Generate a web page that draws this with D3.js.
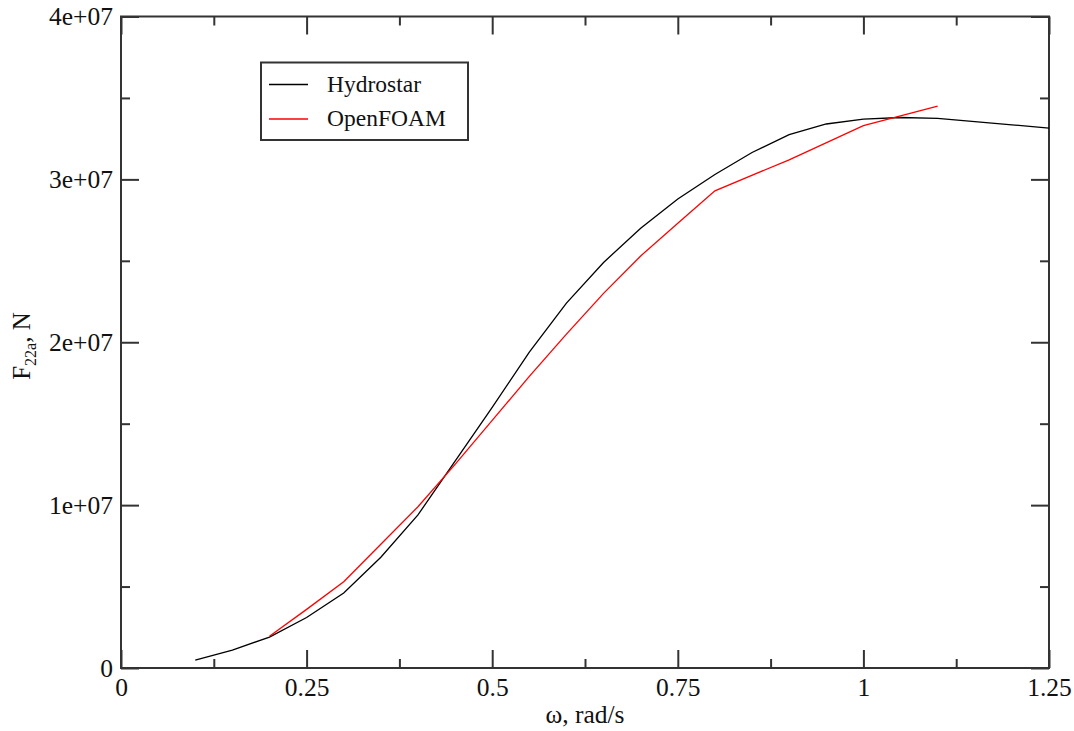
<!DOCTYPE html>
<html>
<head>
<meta charset="utf-8">
<script src="https://cdn.jsdelivr.net/npm/d3@7"></script>
<style>
  body { margin: 0; background: #fff; }
  text { font-family: "Liberation Serif", "Times New Roman", serif; }
</style>
</head>
<body>
<svg id="chart"></svg>
<script>
w = 1074;
h = 731;
// plot frame in pixels
left = 121; right = 1049; top_ = 16.5; bottom = 668;

// Hydrostar, sampled every 0.05 rad/s
var hydroOmega = [0.10, 0.15, 0.20, 0.25, 0.30, 0.35, 0.40, 0.45, 0.50, 0.55, 0.60, 0.65,
                  0.70, 0.75, 0.80, 0.85, 0.90, 0.95, 1.00, 1.05, 1.10, 1.15, 1.20, 1.25];
var hydroForce = [4.9e5, 1.1e6, 1.9e6, 3.1e6, 4.6e6, 6.8e6, 9.4e6, 1.27e7, 1.60e7, 1.94e7, 2.24e7, 2.49e7,
                  2.70e7, 2.88e7, 3.03e7, 3.165e7, 3.275e7, 3.34e7, 3.37e7, 3.38e7, 3.375e7, 3.355e7, 3.335e7, 3.315e7];

// OpenFOAM
var foamOmega = [0.20, 0.25, 0.30, 0.35, 0.40, 0.45, 0.50, 0.55, 0.60, 0.65, 0.70, 0.75,
                 0.80, 0.90, 1.00, 1.10];
var foamForce = [1.95e6, 3.6e6, 5.3e6, 7.6e6, 9.9e6, 1.25e7, 1.52e7, 1.79e7, 2.05e7, 2.30e7, 2.53e7, 2.73e7,
                 2.93e7, 3.12e7, 3.33e7, 3.45e7];

var xTicks = [0, 0.25, 0.5, 0.75, 1, 1.25];
var xTickLabels = ["0", "0.25", "0.5", "0.75", "1", "1.25"];
var xMinor = [0.125, 0.375, 0.625, 0.875, 1.125];
var yTicks = [0, 1e7, 2e7, 3e7, 4e7];
var yTickLabels = ["0", "1e+07", "2e+07", "3e+07", "4e+07"];
var yMinor = [5e6, 1.5e7, 2.5e7, 3.5e7];

var seriesNames = ["Hydrostar", "OpenFOAM"];
var seriesColors = ["#000000", "#ff0000"];

var svg = d3.select('#chart').attr('width', w).attr('height', h);

var x = d3.scaleLinear().domain([0, 1.25]).range([left, right]);
var y = d3.scaleLinear().domain([0, 4e7]).range([bottom, top_]);

// frame
svg.append('rect')
    .attr('x', left).attr('y', top_)
    .attr('width', right - left).attr('height', bottom - top_)
    .attr('fill', 'none').attr('stroke', '#333').attr('stroke-width', 2);

function styleAxis(g) {
  g.select('.domain').remove();
  g.selectAll('.tick line').attr('stroke', '#333').attr('stroke-width', 2);
  g.selectAll('text').attr('font-size', 25.5).attr('fill', '#111');
}

// bottom + top
svg.append('g').attr('transform', 'translate(0,' + bottom + ')')
    .call(d3.axisBottom(x).tickValues(xTicks).tickSizeInner(-18).tickSizeOuter(0).tickPadding(10)
      .tickFormat(function(d, i) { return xTickLabels[i]; }))
    .call(styleAxis)
    .selectAll('text').attr('dy', '0.71em').attr('y', 10);
svg.append('g').attr('transform', 'translate(0,' + bottom + ')')
    .call(d3.axisBottom(x).tickValues(xMinor).tickSizeInner(-9).tickSizeOuter(0).tickFormat(''))
    .call(styleAxis);
svg.append('g').attr('transform', 'translate(0,' + top_ + ')')
    .call(d3.axisTop(x).tickValues(xTicks).tickSizeInner(-18).tickSizeOuter(0).tickFormat(''))
    .call(styleAxis);
svg.append('g').attr('transform', 'translate(0,' + top_ + ')')
    .call(d3.axisTop(x).tickValues(xMinor).tickSizeInner(-9).tickSizeOuter(0).tickFormat(''))
    .call(styleAxis);

// left + right
svg.append('g').attr('transform', 'translate(' + left + ',0)')
    .call(d3.axisLeft(y).tickValues(yTicks).tickSizeInner(-18).tickSizeOuter(0).tickPadding(8)
      .tickFormat(function(d, i) { return yTickLabels[i]; }))
    .call(styleAxis);
svg.append('g').attr('transform', 'translate(' + left + ',0)')
    .call(d3.axisLeft(y).tickValues(yMinor).tickSizeInner(-9).tickSizeOuter(0).tickFormat(''))
    .call(styleAxis);
svg.append('g').attr('transform', 'translate(' + right + ',0)')
    .call(d3.axisRight(y).tickValues(yTicks).tickSizeInner(-18).tickSizeOuter(0).tickFormat(''))
    .call(styleAxis);
svg.append('g').attr('transform', 'translate(' + right + ',0)')
    .call(d3.axisRight(y).tickValues(yMinor).tickSizeInner(-9).tickSizeOuter(0).tickFormat(''))
    .call(styleAxis);

// curves
var line = d3.line().x(function(d) { return x(d[0]); }).y(function(d) { return y(d[1]); });
var series = [d3.zip(hydroOmega, hydroForce), d3.zip(foamOmega, foamForce)];
svg.selectAll('path.curve').data(series).enter()
    .append('path')
    .attr('class', 'curve')
    .attr('d', line)
    .attr('fill', 'none')
    .attr('stroke', function(d, i) { return seriesColors[i]; })
    .attr('stroke-width', 1.3);

// axis titles
svg.append('text')
    .attr('x', (left + right) / 2).attr('y', 723)
    .attr('text-anchor', 'middle').attr('font-size', 25.5).attr('fill', '#111')
    .text('ω, rad/s');

var yl = svg.append('text')
    .attr('transform', 'translate(30,346) rotate(-90)')
    .attr('text-anchor', 'middle').attr('font-size', 25).attr('fill', '#111');
yl.append('tspan').text('F');
yl.append('tspan').attr('font-size', 16).attr('dy', 6).text('22a');
yl.append('tspan').attr('dy', -6).text(', N');

// legend
var legend = svg.append('g');
legend.append('rect')
    .attr('x', 261).attr('y', 62.5).attr('width', 207).attr('height', 77.5)
    .attr('fill', '#fff').attr('stroke', '#333').attr('stroke-width', 2);
seriesNames.forEach(function(name, i) {
  var ly = 84.5 + i * 34.5;
  legend.append('line')
      .attr('x1', 269).attr('x2', 308).attr('y1', ly).attr('y2', ly)
      .attr('stroke', seriesColors[i]).attr('stroke-width', 1.3);
  legend.append('text')
      .attr('x', 327).attr('y', ly + 7)
      .attr('font-size', 23.5).attr('fill', '#111')
      .text(name);
});
</script>
</body>
</html>
